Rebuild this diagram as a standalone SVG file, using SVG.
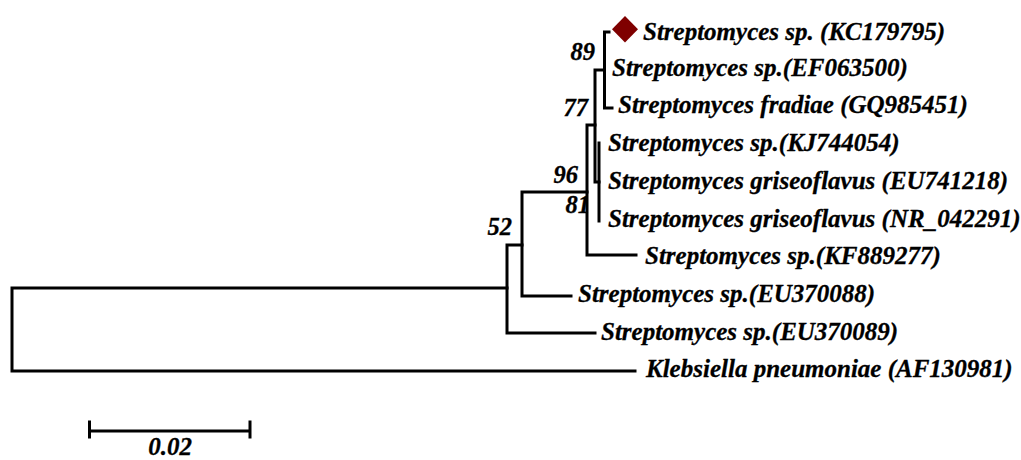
<svg xmlns="http://www.w3.org/2000/svg" width="1021" height="460" viewBox="0 0 1021 460">
<style>
.b{fill:none;stroke:#000;stroke-width:3;stroke-linecap:square}
.t{font-family:"Liberation Serif","Times New Roman",serif;font-weight:bold;font-style:italic;font-size:25px;fill:#000;stroke:#000;stroke-width:0.3}
.bs{font-family:"Liberation Serif","Times New Roman",serif;font-weight:bold;font-style:italic;font-size:24.5px;fill:#000;stroke:#000;stroke-width:0.3;text-anchor:end}
</style>
<rect width="1021" height="460" fill="#fff"/>
<g id="connectors">
<path class="b" d="M12,288 V371 M12,288 H507 M12,371 H635"/>
<path class="b" d="M507,245 V333 M507,245 H522 M507,333 H595"/>
<path class="b" d="M522,192 V296 M522,192 H587 M522,296 H571"/>
<path class="b" d="M587,125 V255 M587,125 H595 M587,255 H636"/>
<path class="b" d="M595,70 V182 M595,70 H604.5 M595,182 H599"/>
<path class="b" d="M599,143 V221"/>
<path class="b" d="M604.5,32 V108 M604.5,32 H609 M604.5,108 H612"/>
</g>
<g id="bootstrap">
<text class="bs" x="595" y="60">89</text>
<text class="bs" x="588" y="116">77</text>
<text class="bs" x="578" y="183">96</text>
<text class="bs" x="590" y="213">81</text>
<text class="bs" x="512" y="235">52</text>
</g>
<g id="leaf-KC179795">
<polygon points="625,16 638,29.3 625,42.6 612,29.3" fill="#7f0000"/>
<text class="t" x="643" y="39.5">Streptomyces sp. (KC179795)</text>
</g>
<g id="leaf-EF063500"><text class="t" x="612" y="76">Streptomyces sp.(EF063500)</text></g>
<g id="leaf-GQ985451"><text class="t" x="618" y="113">Streptomyces fradiae (GQ985451)</text></g>
<g id="leaf-KJ744054"><text class="t" x="608" y="151">Streptomyces sp.(KJ744054)</text></g>
<g id="leaf-EU741218"><text class="t" x="608" y="189">Streptomyces griseoflavus (EU741218)</text></g>
<g id="leaf-NR_042291"><text class="t" x="608" y="227">Streptomyces griseoflavus (NR_042291)</text></g>
<g id="leaf-KF889277"><text class="t" x="645" y="264">Streptomyces sp.(KF889277)</text></g>
<g id="leaf-EU370088"><text class="t" x="578" y="302">Streptomyces sp.(EU370088)</text></g>
<g id="leaf-EU370089"><text class="t" x="601" y="340">Streptomyces sp.(EU370089)</text></g>
<g id="leaf-AF130981"><text class="t" x="646" y="377">Klebsiella pneumoniae (AF130981)</text></g>
<g id="scale">
<path class="b" d="M89.5,431 H250 M89.5,422 V437 M250,422 V437"/>
<text class="t" x="170" y="455" text-anchor="middle">0.02</text>
</g>
</svg>
